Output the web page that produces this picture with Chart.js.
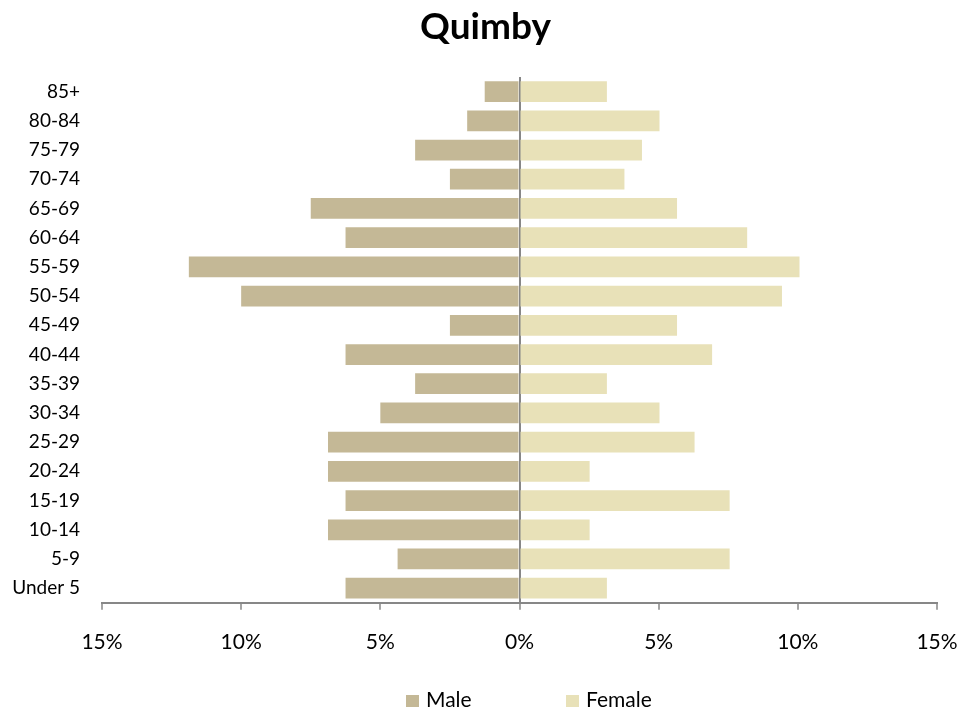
<!DOCTYPE html>
<html>
<head>
<meta charset="utf-8">
<title>Quimby</title>
<script src="https://cdn.jsdelivr.net/npm/chart.js@4.4.1/dist/chart.umd.min.js"></script>
<style>
  body { margin: 0; background: #fff; }
  canvas { display: block; }
</style>
</head>
<body>
<canvas id="myChart" width="979" height="713"></canvas>
<script>
// age groups, bottom to top
const ageGroups = ["Under 5", "5-9", "10-14", "15-19", "20-24", "25-29", "30-34", "35-39", "40-44",
  "45-49", "50-54", "55-59", "60-64", "65-69", "70-74", "75-79", "80-84", "85+"];
// percent of population
const malePct = [6.25, 4.38, 6.88, 6.25, 6.88, 6.88, 5.00, 3.75, 6.25,
  2.50, 10.00, 11.88, 6.25, 7.50, 2.50, 3.75, 1.88, 1.25];
const femalePct = [3.14, 7.55, 2.52, 7.55, 2.52, 6.29, 5.03, 3.14, 6.92,
  5.66, 9.43, 10.06, 8.18, 5.66, 3.77, 4.40, 5.03, 3.14];
const xTicks = [-15, -10, -5, 0, 5, 10, 15];
const chartTitle = "Quimby";

const FONT = "Lato, 'Open Sans', sans-serif";
const AXIS_GREY = "#878787";

// title centred on the page and legend under the axis, Excel style
const excelDecor = {
  id: "excelDecor",
  afterDraw(chart) {
    const ctx = chart.ctx;
    ctx.save();
    ctx.fillStyle = "#000";
    ctx.textBaseline = "middle";
    ctx.textAlign = "center";
    ctx.font = "bold 37px " + FONT;
    ctx.fillText(chartTitle, chart.width / 2 - 4, 27);

    ctx.font = "21px " + FONT;
    ctx.textAlign = "left";
    let x = 406;
    chart.data.datasets.forEach((ds) => {
      ctx.fillStyle = ds.backgroundColor;
      ctx.fillRect(x, 695, 13, 12);
      ctx.fillStyle = "#000";
      ctx.fillText(ds.label, x + 20, 700);
      x += 160;
    });
    ctx.restore();
  },
};

new Chart(document.getElementById("myChart"), {
  type: "bar",
  data: {
    labels: ageGroups,
    datasets: [
      {
        label: "Male",
        data: malePct.map((v) => -v),
        backgroundColor: "#C4B896",
        barPercentage: 0.71,
        categoryPercentage: 1,
      },
      {
        label: "Female",
        data: femalePct,
        backgroundColor: "#E8E1B8",
        barPercentage: 0.71,
        categoryPercentage: 1,
      },
    ],
  },
  options: {
    indexAxis: "y",
    responsive: false,
    animation: false,
    layout: { padding: { left: 0, right: 42, top: 77, bottom: 38 } },
    plugins: {
      legend: { display: false },
      tooltip: { enabled: false },
      title: { display: false },
    },
    scales: {
      x: {
        stacked: true,
        min: -15,
        max: 15,
        afterBuildTicks: (scale) => {
          scale.ticks = xTicks.map((v) => ({ value: v }));
        },
        ticks: {
          color: "#000",
          font: { family: FONT, size: 21 },
          padding: 20,
          maxRotation: 0,
          callback: (v) => Math.abs(v) + "%",
        },
        grid: {
          color: (c) => (c.tick && c.tick.value === 0 ? AXIS_GREY : "rgba(0,0,0,0)"),
          lineWidth: 2,
          tickColor: AXIS_GREY,
          tickLength: 7,
          tickWidth: 1.5,
        },
        border: { display: true, color: AXIS_GREY, width: 2 },
      },
      y: {
        stacked: true,
        reverse: true,
        afterFit: (scale) => {
          scale.width = 102;
        },
        ticks: {
          color: "#000",
          font: { family: FONT, size: 19 },
          padding: 22,
          autoSkip: false,
        },
        grid: { display: false, drawTicks: false },
        border: { display: false },
      },
    },
  },
  plugins: [excelDecor],
});
</script>
</body>
</html>
